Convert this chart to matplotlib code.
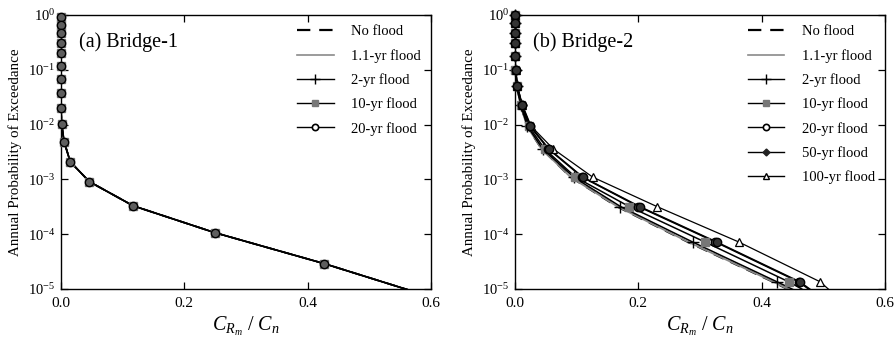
import matplotlib
matplotlib.use("Agg")
import matplotlib.pyplot as plt
from matplotlib.lines import Line2D

plt.rcParams['font.family'] = ['Liberation Serif', 'DejaVu Serif']
plt.rcParams['mathtext.fontset'] = 'custom'
plt.rcParams['mathtext.rm'] = 'Liberation Serif'
plt.rcParams['mathtext.it'] = 'Liberation Serif:italic'

# ---------------- data ----------------
series_labels_a = ["No flood", "1.1-yr flood", "2-yr flood", "10-yr flood", "20-yr flood"]
series_labels_b = ["No flood", "1.1-yr flood", "2-yr flood", "10-yr flood",
                   "20-yr flood", "50-yr flood", "100-yr flood"]

# Bridge-1 (all flood cases coincide)
p_a = [0.93, 0.66, 0.46, 0.31, 0.20, 0.117, 0.068, 0.037, 0.020, 0.0102,
       0.0049, 0.0021, 0.00091, 0.00033, 0.000107, 2.9e-5, 2.3e-6]
x_a = [0.0, 0.0, 0.0, 0.0, 0.0, 0.0, 0.0, 0.0, 0.0, 0.001,
       0.005, 0.015, 0.046, 0.117, 0.249, 0.427, 0.74]

# Bridge-2
p_b = [1.0, 0.72, 0.47, 0.31, 0.18, 0.10, 0.05, 0.023, 0.0094, 0.0036,
       0.0011, 3.2e-4, 7.2e-5, 1.35e-5, 1e-6]
x_b_noflood = [0, 0, 0, 0, 0, 0, 0.003, 0.009, 0.019, 0.043, 0.090, 0.165, 0.280, 0.418, 0.618]
x_b_1p1yr   = [0, 0, 0, 0, 0, 0, 0.003, 0.009, 0.019, 0.043, 0.090, 0.166, 0.281, 0.419, 0.620]
x_b_2yr     = [0, 0, 0, 0, 0, 0, 0.003, 0.009, 0.020, 0.045, 0.095, 0.171, 0.288, 0.425, 0.634]
x_b_10yr    = [0, 0, 0, 0, 0, 0, 0.003, 0.010, 0.022, 0.048, 0.098, 0.185, 0.308, 0.444, 0.626]
x_b_20yr    = [0, 0, 0, 0, 0, 0.001, 0.004, 0.011, 0.024, 0.054, 0.109, 0.200, 0.325, 0.460, 0.599]
x_b_50yr    = [0, 0, 0, 0, 0, 0.001, 0.004, 0.011, 0.025, 0.055, 0.110, 0.202, 0.327, 0.462, 0.600]
x_b_100yr   = [0, 0, 0, 0, 0, 0.001, 0.004, 0.012, 0.026, 0.062, 0.126, 0.230, 0.363, 0.495, 0.608]

x_ticks = [0.0, 0.2, 0.4, 0.6]
x_tick_labels = ["0.0", "0.2", "0.4", "0.6"]
y_ticks = [1e-5, 1e-4, 1e-3, 1e-2, 1e-1, 1e0]
y_tick_labels = [r"$10^{-5}$", r"$10^{-4}$", r"$10^{-3}$", r"$10^{-2}$", r"$10^{-1}$", r"$10^{0}$"]

# ---------------- styles ----------------
styles = {
    "No flood":     dict(color="black", lw=1.3, ls=(0, (6, 4)), marker=None),
    "1.1-yr flood": dict(color="#8a8a8a", lw=1.2, ls="-", marker=None),
    "2-yr flood":   dict(color="black", lw=1.1, ls="-", marker="+", ms=8, mew=1.0),
    "10-yr flood":  dict(color="black", lw=1.1, ls="-", marker="s", ms=5.5, mfc="#777777", mec="#777777"),
    "20-yr flood":  dict(color="black", lw=1.1, ls="-", marker="o", ms=6, mfc="#555555", mec="black", mew=1.0),
    "50-yr flood":  dict(color="black", lw=1.1, ls="-", marker="o", ms=6, mfc="#333333", mec="black", mew=1.0),
    "100-yr flood": dict(color="black", lw=0.9, ls="-", marker="^", ms=5.5, mfc="white", mec="black", mew=0.9),
}
marker_z = {"2-yr flood": 3.0, "10-yr flood": 3.1, "100-yr flood": 3.2,
            "20-yr flood": 3.3, "50-yr flood": 3.4}
legend_styles = {
    "No flood":     dict(color="black", lw=1.6, ls=(0, (6, 4))),
    "1.1-yr flood": dict(color="#8a8a8a", lw=1.2, ls="-"),
    "2-yr flood":   dict(color="black", lw=1.0, marker="+", ms=7, mew=1.0),
    "10-yr flood":  dict(color="black", lw=1.0, marker="s", ms=5, mfc="#777777", mec="#777777"),
    "20-yr flood":  dict(color="black", lw=1.0, marker="o", ms=4.5, mfc="white", mec="black", mew=1.2),
    "50-yr flood":  dict(color="black", lw=1.0, marker="D", ms=3.5, mfc="#222222", mec="#222222"),
    "100-yr flood": dict(color="black", lw=1.0, marker="^", ms=4.5, mfc="white", mec="black", mew=1.0),
}

fig = plt.figure(figsize=(8.95, 3.42), dpi=100)
ax1 = fig.add_axes([61 / 895, 1 - 289 / 342, 370 / 895, 274 / 342])
ax2 = fig.add_axes([515 / 895, 1 - 289 / 342, 370 / 895, 274 / 342])

YMIN, YMAX = 1e-5, 1e0


def plot_series(ax, x, p, name, override=None):
    st = dict(styles[name])
    if override:
        st.update(override)
    marker = st.pop("marker")
    color = st.pop("color")
    lw = st.pop("lw")
    ls = st.pop("ls")
    ax.plot(x, p, color=color, lw=lw, ls=ls, zorder=2)
    if marker is not None:
        xs = [xi for xi, pi in zip(x, p) if YMIN <= pi <= YMAX]
        ps = [pi for pi in p if YMIN <= pi <= YMAX]
        ax.plot(xs, ps, ls="none", marker=marker, color=color, clip_on=False,
                zorder=marker_z[name], **st)


# Panel (a)
for name in series_labels_a:
    if name == "20-yr flood":
        plot_series(ax1, x_a, p_a, name, dict(ms=6, mfc="#5e5e5e"))
    elif name == "2-yr flood":
        plot_series(ax1, x_a, p_a, name, dict(ms=4.5))
    else:
        plot_series(ax1, x_a, p_a, name)

# Panel (b)
xb = {"No flood": x_b_noflood, "1.1-yr flood": x_b_1p1yr, "2-yr flood": x_b_2yr,
      "10-yr flood": x_b_10yr, "20-yr flood": x_b_20yr, "50-yr flood": x_b_50yr,
      "100-yr flood": x_b_100yr}
for name in series_labels_b:
    plot_series(ax2, xb[name], p_b, name)


def style_axes(ax, title, labels):
    ax.set_yscale("log")
    ax.set_xlim(0, 0.6)
    ax.set_ylim(YMIN, YMAX)
    ax.set_xticks(x_ticks)
    ax.set_xticklabels(x_tick_labels, fontsize=11)
    ax.set_yticks(y_ticks)
    ax.set_yticklabels(y_tick_labels, fontsize=10.5)
    ax.minorticks_off()
    ax.tick_params(direction="in", length=5, width=0.9, top=True, right=True, pad=4)
    ax.tick_params(axis="x", pad=6)
    for s in ax.spines.values():
        s.set_linewidth(1.0)
        s.set_zorder(2.5)
    ax.set_ylabel("Annual Probability of Exceedance", fontsize=10.8, labelpad=4)
    ax.set_xlabel(r"$C_{R_m}$ / $C_n$", fontsize=14.5, labelpad=3)
    ax.text(0.05, 0.90, title, transform=ax.transAxes, fontsize=14.5,
            ha="left", va="center")
    handles = [Line2D([], [], **legend_styles[n]) for n in labels]
    ax.legend(handles, labels, loc="upper right", frameon=False, fontsize=10.5,
              handlelength=2.5, handletextpad=1.2, labelspacing=0.72,
              borderaxespad=0.3, bbox_to_anchor=(1.0, 1.0))


style_axes(ax1, "(a) Bridge-1", series_labels_a)
style_axes(ax2, "(b) Bridge-2", series_labels_b)

fig.savefig("out.png", dpi=100)
